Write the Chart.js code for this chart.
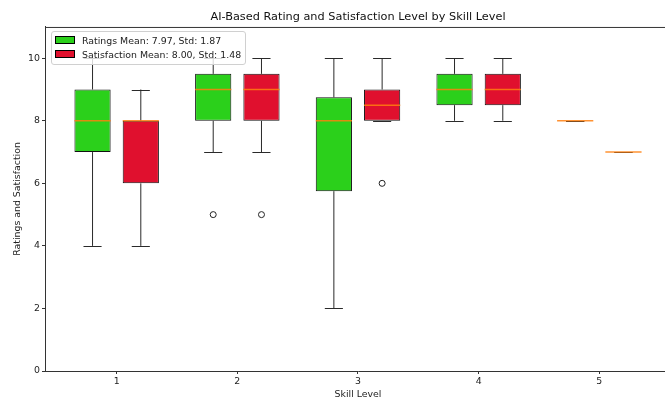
<!DOCTYPE html>
<html>
<head>
<meta charset="utf-8">
<script src="https://cdn.jsdelivr.net/npm/chart.js@4.4.1/dist/chart.umd.min.js"></script>
<style>
  html, body { margin: 0; padding: 0; overflow: hidden; background: #fff; }
  #wrap { position: relative; width: 676px; height: 401px; }
  #legend {
    position: absolute; left: 51px; top: 31px;
    padding: 1px 4px 2px 2px;
    border: 1px solid #d0d0d0; border-radius: 3px;
    background: rgba(255,255,255,0.8);
    font: 9.4px "DejaVu Sans", sans-serif; color: #222;
  }
  #legend .row { display: flex; align-items: center; height: 14.3px; }
  #legend .patch { width: 18px; height: 6px; border: 1px solid #000; margin: 0 7px 0 1px; }
</style>
</head>
<body>
<div id="wrap">
  <canvas id="chart"></canvas>
  <div id="legend"></div>
</div>
<script>
/* boxplot of ratings vs satisfaction per skill level */

const LEVELS = [1, 2, 3, 4, 5];

const RATINGS_LOW = [4, 7, 2, 8, 8];
const RATINGS_Q1 = [7, 8, 5.75, 8.5, 8];
const RATINGS_MED = [8, 9, 8, 9, 8];
const RATINGS_Q3 = [9, 9.5, 8.75, 9.5, 8];
const RATINGS_HIGH = [10, 10, 10, 10, 8];
const RATINGS_OUT = [[], [5], [], [], []];

const SAT_LOW = [4, 7, 8, 8, 7];
const SAT_Q1 = [6, 8, 8, 8.5, 7];
const SAT_MED = [8, 9, 8.5, 9, 7];
const SAT_Q3 = [8, 9.5, 9, 9.5, 7];
const SAT_HIGH = [9, 10, 10, 10, 7];
const SAT_OUT = [[], [5], [6], [], []];

const RATINGS_STATS = [7.97, 1.87];
const SAT_STATS = [8.00, 1.48];

const Y_TICKS = [0, 2, 4, 6, 8, 10];

const GREEN = "#2bd01b";
const RED = "#e0102e";
const FONT = "'DejaVu Sans', sans-serif";

// offsets that match the bar grouping (categoryPercentage .8, two bars)
const SHIFT = 0.2;

const boxes = (q1, q3) => LEVELS.map((l, i) => ({ x: l, y: [q1[i], q3[i]] }));
const fliers = (out, dx) => LEVELS.flatMap((l, i) => out[i].map((v) => ({ x: l + dx, y: v })));

const series = [
  { low: RATINGS_LOW, med: RATINGS_MED, high: RATINGS_HIGH, q1: RATINGS_Q1, q3: RATINGS_Q3 },
  { low: SAT_LOW, med: SAT_MED, high: SAT_HIGH, q1: SAT_Q1, q3: SAT_Q3 },
];

const whiskerPlugin = {
  id: "whiskers",
  afterDatasetsDraw(chart) {
    const { ctx, scales: { y } } = chart;
    ctx.save();
    series.forEach((s, di) => {
      const meta = chart.getDatasetMeta(di);
      meta.data.forEach((el, i) => {
        const x = el.x, w = el.width;
        ctx.strokeStyle = "#2a2a2a";
        ctx.lineWidth = 1;
        ctx.beginPath();
        ctx.moveTo(x, y.getPixelForValue(s.q1[i]));
        ctx.lineTo(x, y.getPixelForValue(s.low[i]));
        ctx.moveTo(x, y.getPixelForValue(s.q3[i]));
        ctx.lineTo(x, y.getPixelForValue(s.high[i]));
        ctx.stroke();
        ctx.beginPath();
        for (const v of [s.low[i], s.high[i]]) {
          const py = Math.round(y.getPixelForValue(v)) + 0.5;
          ctx.moveTo(x - w / 4, py);
          ctx.lineTo(x + w / 4, py);
        }
        ctx.stroke();
        const pm = y.getPixelForValue(s.med[i]);
        ctx.strokeStyle = "rgba(255,127,14,0.85)";
        ctx.lineWidth = 1.5;
        ctx.beginPath();
        ctx.moveTo(x - w / 2, pm);
        ctx.lineTo(x + w / 2, pm);
        ctx.stroke();
      });
    });
    ctx.restore();
  },
  afterDraw(chart) {
    const { ctx, chartArea: a } = chart;
    ctx.save();
    ctx.strokeStyle = "#333";
    ctx.lineWidth = 1;
    ctx.beginPath();
    ctx.moveTo(a.left, a.top + 0.5);
    ctx.lineTo(a.right, a.top + 0.5);
    ctx.stroke();
    ctx.restore();
  },
};

const chart = new Chart(document.getElementById("chart"), {
  type: "bar",
  data: {
    datasets: [
      {
        label: `Ratings Mean: ${RATINGS_STATS[0].toFixed(2)}, Std: ${RATINGS_STATS[1].toFixed(2)}`,
        data: boxes(RATINGS_Q1, RATINGS_Q3),
        backgroundColor: GREEN, borderColor: "#111", borderWidth: 1, borderSkipped: false,
      },
      {
        label: `Satisfaction Mean: ${SAT_STATS[0].toFixed(2)}, Std: ${SAT_STATS[1].toFixed(2)}`,
        data: boxes(SAT_Q1, SAT_Q3),
        backgroundColor: RED, borderColor: "#111", borderWidth: 1, borderSkipped: false,
      },
      {
        type: "scatter", label: "ratings outliers", data: fliers(RATINGS_OUT, -SHIFT),
        pointRadius: 3, pointBorderColor: "#222", pointBackgroundColor: "rgba(0,0,0,0)", pointBorderWidth: 1,
      },
      {
        type: "scatter", label: "satisfaction outliers", data: fliers(SAT_OUT, SHIFT),
        pointRadius: 3, pointBorderColor: "#222", pointBackgroundColor: "rgba(0,0,0,0)", pointBorderWidth: 1,
      },
    ],
  },
  options: {
    responsive: true, maintainAspectRatio: false, animation: false,
    categoryPercentage: 0.8, barPercentage: 0.75,
    layout: { padding: { top: 0, right: 1, bottom: 0, left: 0 } },
    plugins: {
      legend: { display: false },
      tooltip: { enabled: false },
      title: {
        display: true, fullSize: false,
        text: "AI-Based Rating and Satisfaction Level by Skill Level",
        color: "#111", font: { family: FONT, size: 11.3, weight: "normal" },
        padding: { top: 10.2, bottom: 3.2 },
      },
    },
    scales: {
      x: {
        type: "linear", min: 0.406, max: 5.594, offset: false,
        afterFit: (s) => { s.height = 30; },
        grid: { drawOnChartArea: false, offset: false, tickLength: 3, color: "#333" },
        border: { color: "#333", width: 1 },
        ticks: { stepSize: 1, includeBounds: false, padding: 2, color: "#222", font: { family: FONT, size: 9.4 } },
        title: { display: true, text: "Skill Level", color: "#222", font: { family: FONT, size: 9.4 }, padding: { top: 0, bottom: 0.9 } },
      },
      y: {
        min: 0, max: 11,
        afterFit: (s) => { s.width = 45; },
        afterBuildTicks: (s) => { s.ticks = Y_TICKS.map((v) => ({ value: v })); },
        grid: { drawOnChartArea: false, tickLength: 3, color: "#333" },
        border: { color: "#333", width: 1 },
        ticks: { padding: 2, color: "#222", font: { family: FONT, size: 9.4 } },
        title: { display: true, text: "Ratings and Satisfaction", color: "#222", font: { family: FONT, size: 9.4 }, padding: { top: 12.4, bottom: 0 } },
      },
    },
  },
  plugins: [whiskerPlugin],
});

// legend as html, built from the two box datasets
document.getElementById("legend").innerHTML = chart.data.datasets.slice(0, 2).map((d) =>
  `<div class="row"><span class="patch" style="background:${d.backgroundColor}"></span><span>${d.label}</span></div>`
).join("");
</script>
</body>
</html>
